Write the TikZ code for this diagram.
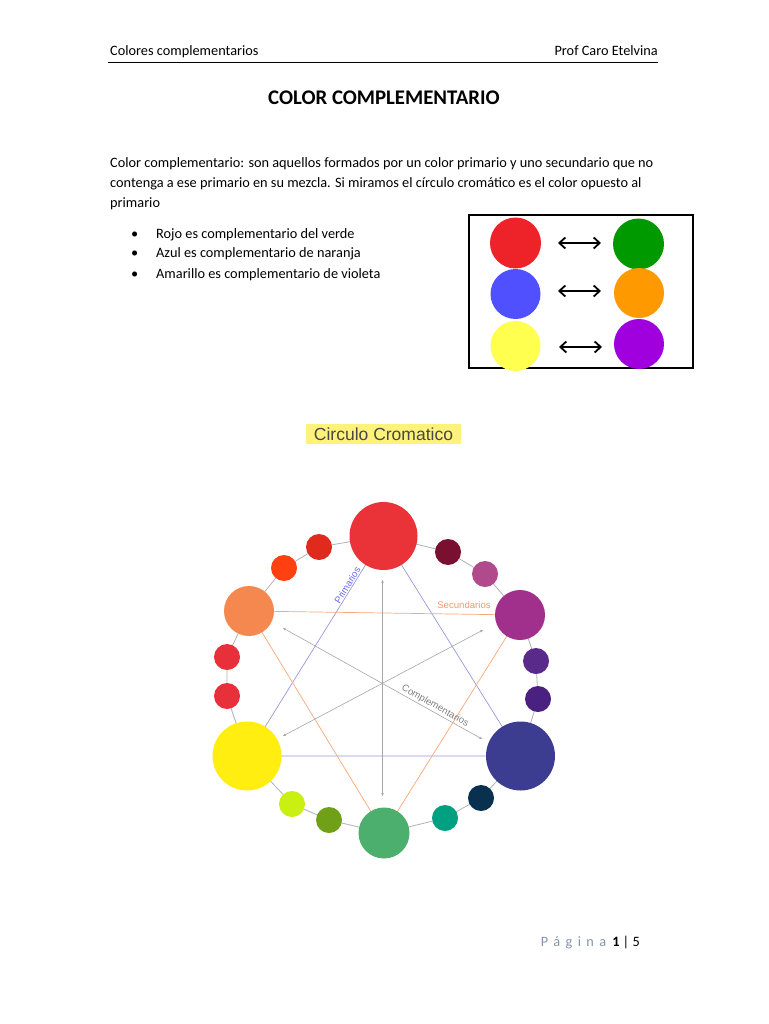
\documentclass[tikz,border=0pt]{standalone}
\usepackage{fontspec}
\setmainfont{Carlito}
\newfontfamily\arialf{Liberation Sans}
\usetikzlibrary{arrows.meta}
\definecolor{bRed}{HTML}{EE2229}
\definecolor{bGreen}{HTML}{009A00}
\definecolor{bBlue}{HTML}{5050FF}
\definecolor{bOrange}{HTML}{FF9900}
\definecolor{bYellow}{HTML}{FFFF50}
\definecolor{bPurple}{HTML}{A000DD}
\definecolor{wRedBig}{HTML}{EA3239}
\definecolor{wRedA}{HTML}{E12A1E}
\definecolor{wOrRed}{HTML}{FF4010}
\definecolor{wOrange}{HTML}{F4884E}
\definecolor{wRedB}{HTML}{E8303A}
\definecolor{wYellow}{HTML}{FFEE10}
\definecolor{wLime}{HTML}{C8F010}
\definecolor{wOlive}{HTML}{70A018}
\definecolor{wGreen}{HTML}{4DAF6E}
\definecolor{wTeal}{HTML}{00A080}
\definecolor{wNavy}{HTML}{0A3050}
\definecolor{wBlue}{HTML}{3C3C90}
\definecolor{wDPurB}{HTML}{4A2080}
\definecolor{wDPurA}{HTML}{5A2A8A}
\definecolor{wPurple}{HTML}{A0308C}
\definecolor{wPink}{HTML}{B04A8C}
\definecolor{wMaroon}{HTML}{7A1030}
\definecolor{primLine}{HTML}{9898DC}
\definecolor{secLine}{HTML}{F8A878}
\definecolor{hiYellow}{HTML}{FFF27A}
\definecolor{pageBlue}{HTML}{8496B0}
\tikzset{
  txt/.style={inner sep=0pt, anchor=base west, font=\fontsize{14.3}{16}\selectfont},
  dot/.style={circle, inner sep=0pt, draw=none, fill=#1},
  pair/.style={{Straight Barb[length=6pt,width=11pt]}-{Straight Barb[length=6pt,width=11pt]}, line width=1.8pt, black},
  ring/.style={draw=gray!60, line width=0.8pt},
  garrow/.style={{Stealth[length=3pt,width=2.5pt]}-{Stealth[length=3pt,width=2.5pt]}, draw=gray!70, line width=0.6pt},
  lbl/.style={inner sep=1pt, font=\arialf\fontsize{9.6}{10}\selectfont}
}
\begin{document}
\begin{tikzpicture}[x=1pt,y=-1pt]
\useasboundingbox[fill=white] (0,0) rectangle (768,1024);

% header
\node[txt] (hl) at (110,56) {Colores complementarios};
\node[txt, anchor=base east] (hr) at (658,56) {Prof Caro Etelvina};
\draw[line width=0.8pt] (108,62) -- (658,62);

% title
\node[inner sep=0pt, anchor=base, font=\bfseries\fontsize{20.8}{22}\selectfont] (title) at (384,105) {COLOR COMPLEMENTARIO};

% paragraph
\node[txt] (p1) at (110,168) {Color complementario: son aquellos formados por un color primario y uno secundario que no};
\node[txt] (p2) at (110,188) {contenga a ese primario en su mezcla. Si miramos el círculo cromático es el color opuesto al};
\node[txt] (p3) at (110,208) {primario};

% bullets
\node[txt] (b1d) at (131,238) {•};
\node[txt] (b1) at (156,238) {Rojo es complementario del verde};
\node[txt] (b2d) at (131,258) {•};
\node[txt] (b2) at (156,258) {Azul es complementario de naranja};
\node[txt] (b3d) at (131,278) {•};
\node[txt] (b3) at (156,278) {Amarillo es complementario de violeta};

% box with pairs
\node[draw=black, line width=2pt, minimum width=224pt, minimum height=152pt, inner sep=0pt] (box) at (581,291.5) {};
\node[dot=bRed, minimum width=51pt, minimum height=48pt] (c1) at (515.5,243) {};
\node[dot=bGreen, minimum width=51pt, minimum height=48pt] (d1) at (638.5,244) {};
\node[dot=bBlue, minimum width=50pt, minimum height=48pt] (c2) at (515.5,294) {};
\node[dot=bOrange, minimum width=50pt, minimum height=48pt] (d2) at (639,293) {};
\node[dot=bYellow, minimum width=50pt, minimum height=46pt] (c3) at (515.5,346) {};
\node[dot=bPurple, minimum width=50pt, minimum height=48pt] (d3) at (639,344) {};
\coordinate (a1l) at (558,243); \coordinate (a1r) at (601,243);
\coordinate (a2l) at (558,291); \coordinate (a2r) at (601,291);
\coordinate (a3l) at (559,347); \coordinate (a3r) at (602,347);
\draw[pair] (a1l) -- (a1r);
\draw[pair] (a2l) -- (a2r);
\draw[pair] (a3l) -- (a3r);

% Circulo Cromatico label
\node[fill=hiYellow, minimum width=155pt, minimum height=20pt, inner sep=0pt,
      font=\arialf\fontsize{17.5}{18}\selectfont, text=black!72] (cc) at (383.5,434) {Circulo Cromatico};

% wheel positions
\coordinate (cR) at (383.5,536);
\coordinate (cRa) at (319,547);
\coordinate (cOR) at (284,568);
\coordinate (cO) at (249,611);
\coordinate (cRb) at (227,657);
\coordinate (cRc) at (227,696);
\coordinate (cY) at (247,756);
\coordinate (cL) at (292,804);
\coordinate (cOl) at (329,820);
\coordinate (cG) at (384,833);
\coordinate (cT) at (445,818);
\coordinate (cN) at (481,798);
\coordinate (cB) at (520.5,756);
\coordinate (cDb) at (538,699);
\coordinate (cDa) at (536,661);
\coordinate (cP) at (520,615);
\coordinate (cPk) at (485,574);
\coordinate (cM) at (448,552);

% ring connectors
\draw[ring] (cR) -- (cM) -- (cPk) -- (cP) -- (cDa) -- (cDb) -- (cB) -- (cN) -- (cT) -- (cG) -- (cOl) -- (cL) -- (cY) -- (cRc) -- (cRb) -- (cO) -- (cOR) -- (cRa) -- (cR);

% primaries triangle
\draw[primLine, line width=0.7pt] (cR) -- (cY) -- (cB) -- cycle;
\path (cR) -- (cY) node[lbl, pos=0.235, sloped, above, text=primLine!70!blue] (lp) {Primarios};
% secondaries triangle
\draw[secLine, line width=0.7pt] (cO) -- (cP) -- (cG) -- cycle;
\node[lbl, text=secLine!90!red, anchor=south] (ls) at (464,610) {Secundarios};

% complementary arrows
\coordinate (ctr) at (382.5,683);
\coordinate (tU) at (382.5,580);
\coordinate (tD) at (382.5,796);
\coordinate (tUL) at (283,628);
\coordinate (tLR) at (482,739);
\coordinate (tUR) at (483,630);
\coordinate (tLL) at (283,736);
\draw[garrow] (tU) -- (tD);
\draw[garrow] (tUL) -- (tLR);
\draw[garrow] (tUR) -- (tLL);
\path (ctr) -- (tLR) node[lbl, pos=0.5, sloped, above, text=gray] (lc) {Complementarios};

% wheel circles
\node[dot=wRedBig, minimum size=68pt] (R) at (cR) {};
\node[dot=wRedA, minimum size=26pt] (Ra) at (cRa) {};
\node[dot=wOrRed, minimum size=26pt] (OR) at (cOR) {};
\node[dot=wOrange, minimum width=50pt, minimum height=47pt] (O) at (cO) {};
\node[dot=wRedB, minimum size=26pt] (Rb) at (cRb) {};
\node[dot=wRedB, minimum size=26pt] (Rc) at (cRc) {};
\node[dot=wYellow, minimum width=69pt, minimum height=66pt] (Y) at (cY) {};
\node[dot=wLime, minimum size=26pt] (L) at (cL) {};
\node[dot=wOlive, minimum size=26pt] (Ol) at (cOl) {};
\node[dot=wGreen, minimum width=51pt, minimum height=48pt] (G) at (cG) {};
\node[dot=wTeal, minimum size=26pt] (T) at (cT) {};
\node[dot=wNavy, minimum size=26pt] (N) at (cN) {};
\node[dot=wBlue, minimum width=69pt, minimum height=66pt] (B) at (cB) {};
\node[dot=wDPurB, minimum size=26pt] (Db) at (cDb) {};
\node[dot=wDPurA, minimum size=26pt] (Da) at (cDa) {};
\node[dot=wPurple, minimum width=50pt, minimum height=46pt] (P) at (cP) {};
\node[dot=wPink, minimum size=26pt] (Pk) at (cPk) {};
\node[dot=wMaroon, minimum size=26pt] (M) at (cM) {};

% footer
\node[inner sep=0pt, anchor=base east, font=\fontsize{14.3}{16}\selectfont] (pg) at (640,946)
  {{\color{pageBlue}\addfontfeatures{LetterSpace=38}Página}\hspace{6pt}\textbf{1} | 5};
\end{tikzpicture}
\end{document}
